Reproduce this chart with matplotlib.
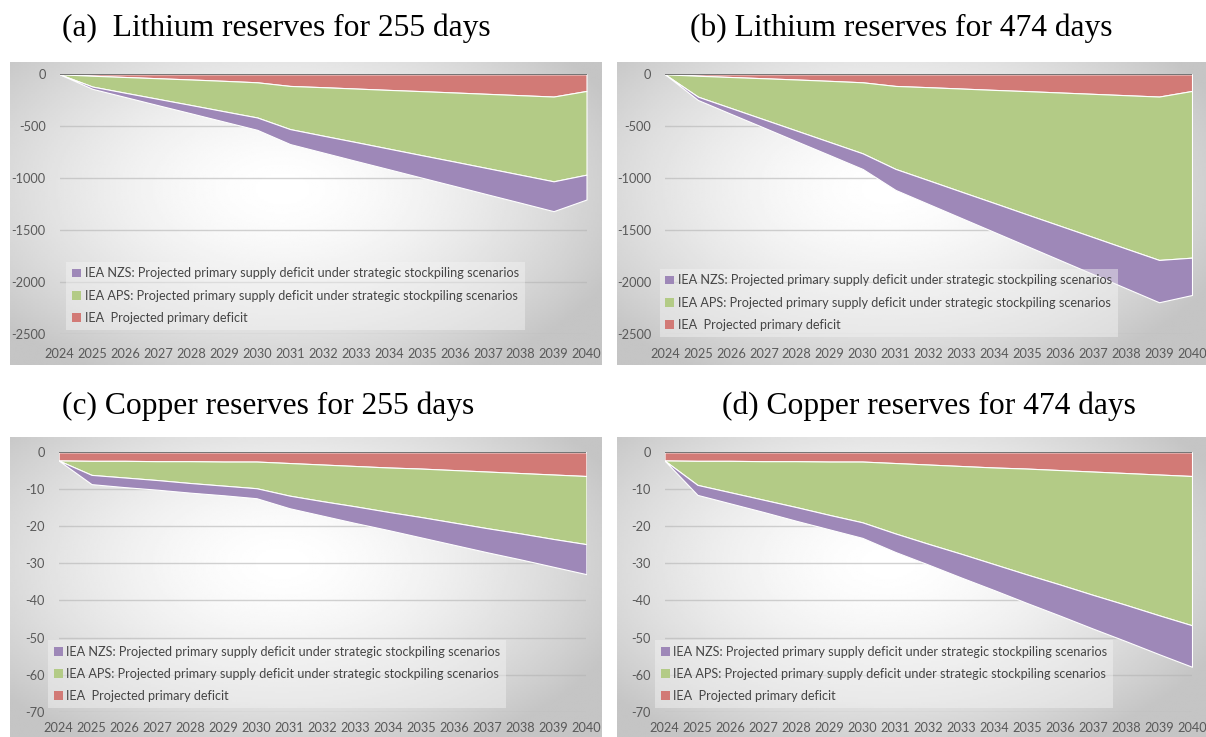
import numpy as np
import matplotlib
matplotlib.use("Agg")
import matplotlib.pyplot as plt

# categories
years = list(range(2024, 2041))
year_labels = [str(y) for y in years]

legend_labels = [
    "IEA NZS: Projected primary supply deficit under strategic stockpiling scenarios",
    "IEA APS: Projected primary supply deficit under strategic stockpiling scenarios",
    "IEA  Projected primary deficit",
]

# lithium: IEA projected primary deficit (same in both lithium panels)
li_iea = [0, -14, -26, -38, -50, -63, -77, -112, -124, -137, -150, -162, -175, -188, -201, -214, -160]
# lithium 255 days
li255_aps = [0, -104, -152, -199, -246, -293, -338, -415, -466, -515, -565, -616, -665, -715, -765, -815, -805]
li255_nzs = [0, -22, -41, -61, -80, -99, -119, -144, -162, -181, -198, -216, -234, -252, -269, -287, -239]
# lithium 474 days
li474_aps = [0, -201, -298, -395, -492, -588, -683, -798, -895, -992, -1088, -1186, -1282, -1378, -1475, -1571, -1603]
li474_nzs = [0, -32, -56, -79, -103, -126, -150, -202, -228, -253, -279, -304, -330, -356, -381, -407, -359]

# copper: IEA projected primary deficit
cu_iea = [-2.2, -2.3, -2.3, -2.4, -2.4, -2.5, -2.5, -2.9, -3.3, -3.7, -4.1, -4.4, -4.8, -5.2, -5.6, -6.0, -6.4]
# copper 255 days
cu255_aps = [0, -3.8, -4.5, -5.1, -5.9, -6.5, -7.2, -8.8, -9.9, -10.9, -12.0, -13.1, -14.2, -15.3, -16.3, -17.4, -18.4]
cu255_nzs = [0, -2.5, -2.6, -2.6, -2.6, -2.6, -2.7, -3.4, -3.9, -4.5, -4.9, -5.5, -6.0, -6.5, -7.0, -7.5, -8.1]
# copper 474 days
cu474_aps = [0, -6.5, -8.5, -10.4, -12.4, -14.4, -16.4, -19.0, -21.4, -23.7, -26.1, -28.6, -30.9, -33.3, -35.6, -38.0, -40.3]
cu474_nzs = [0, -2.7, -3.0, -3.3, -3.7, -3.9, -4.2, -5.0, -5.6, -6.4, -7.0, -7.7, -8.4, -9.1, -9.8, -10.5, -11.2]

li_yticks = [0, -500, -1000, -1500, -2000, -2500]
cu_yticks = [0, -10, -20, -30, -40, -50, -60, -70]

RED = "#d27a76"
GREEN = "#b3cb86"
PURPLE = "#9e88b8"
TXT = "#595959"

W, H = 1206, 737
fig = plt.figure(figsize=(W / 100, H / 100), dpi=100)


def rect(x0, y0, x1, y1):
    return [x0 / W, 1 - y1 / H, (x1 - x0) / W, (y1 - y0) / H]


def background(box):
    bg = fig.add_axes(rect(*box), zorder=0)
    nx, ny = 300, 160
    xx, yy = np.meshgrid(np.linspace(0, 1, nx), np.linspace(0, 1, ny))
    d = np.sqrt(((xx - 0.46) / 0.55) ** 2 + ((yy - 0.42) / 0.62) ** 2)
    v = 1 - 0.19 * d ** 1.6
    v = np.clip(v, 0.77, 1)
    bg.imshow(v, cmap="gray", vmin=0, vmax=1, aspect="auto", interpolation="bilinear")
    bg.set_axis_off()


def panel(box, plot, iea, aps, nzs, yticks, xpad, leg_anchor, title, title_xy):
    background(box)
    ax = fig.add_axes(rect(*plot), zorder=1)
    ax.patch.set_alpha(0)
    polys = ax.stackplot(years, iea, aps, nzs, colors=[RED, GREEN, PURPLE],
                         edgecolor="white", linewidth=0.8, zorder=2)
    ax.set_xlim(years[0], years[-1])
    ax.set_ylim(yticks[-1], 0)
    ax.set_yticks(yticks)
    ax.set_yticklabels([str(t) for t in yticks])
    ax.set_xticks(years)
    ax.set_xticklabels(year_labels)
    ax.tick_params(axis="both", length=0, colors=TXT, labelsize=9.2)
    ax.tick_params(axis="x", pad=xpad)
    ax.tick_params(axis="y", pad=10)
    for lab in ax.get_xticklabels() + ax.get_yticklabels():
        lab.set_family("Lato")
    for s in ax.spines.values():
        s.set_visible(False)
    ax.grid(axis="y", color="#b4b4b4", alpha=0.6, linewidth=1)
    ax.set_axisbelow(True)
    ax.axhline(0, color="#6a6a6a", linewidth=1.3, zorder=5)
    leg = ax.legend(polys[::-1], legend_labels, loc="lower left",
                    bbox_to_anchor=leg_anchor, borderaxespad=0,
                    prop={"family": "Lato", "size": 9.1}, labelcolor="#454545",
                    handlelength=0.7, handleheight=0.7, handletextpad=0.3,
                    labelspacing=0.82, borderpad=0.45,
                    frameon=True, fancybox=False, framealpha=0.45)
    leg.get_frame().set_facecolor("#f4f4f4")
    leg.get_frame().set_edgecolor("none")
    for h in leg.legend_handles:
        h.set_edgecolor("none")
    fig.text(title_xy[0] / W, 1 - title_xy[1] / H, title, family="Liberation Serif",
             fontsize=22.7, ha="left", va="center", color="black")
    return ax


panel((10, 62, 602, 365), (59.6, 74.3, 586.5, 334.3), li_iea, li255_aps, li255_nzs,
      li_yticks, 10, (0.013, 0.017), "(a)  Lithium reserves for 255 days", (62, 28))
panel((617, 62, 1206, 365), (665, 74.3, 1192, 334.3), li_iea, li474_aps, li474_nzs,
      li_yticks, 10, (-0.01, -0.01), "(b) Lithium reserves for 474 days", (690, 28))
panel((10, 437, 602, 737), (58.6, 452.3, 586.4, 711.6), cu_iea, cu255_aps, cu255_nzs,
      cu_yticks, 7.5, (-0.02, 0.014), "(c) Copper reserves for 255 days", (62, 406))
panel((617, 437, 1206, 737), (664.5, 452.3, 1192, 711.6), cu_iea, cu474_aps, cu474_nzs,
      cu_yticks, 7.5, (-0.018, 0.014), "(d) Copper reserves for 474 days", (722, 406))

fig.savefig("out.png", dpi=100)
